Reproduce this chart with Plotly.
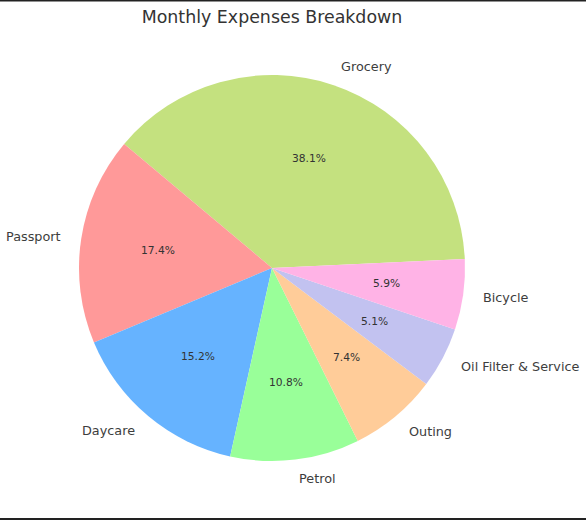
"""Camembert des dépenses mensuelles"""

import numpy as np
import plotly.graph_objects as go

categories = ["Grocery", "Passport", "Daycare", "Petrol", "Outing",
              "Oil Filter & Service", "Bicycle"]
montants = [38.1, 17.4, 15.2, 10.8, 7.4, 5.1, 5.9]
couleurs = ["#c4e17f", "#ff9999", "#66b3ff", "#99ff99", "#ffcc99",
            "#c2c2f0", "#ffb3e6"]

W, H = 586, 520
# zone carrée du camembert (386 x 386 px, centre ~ 272,268)
marge = dict(l=79, r=121, t=75, b=59, autoexpand=False)
ROTATION = -50

fig = go.Figure()

fig.add_trace(go.Pie(
    labels=categories,
    values=montants,
    sort=False,
    direction="counterclockwise",
    rotation=ROTATION,
    marker=dict(colors=couleurs, line=dict(width=0)),
    textinfo="none",
    showlegend=False,
    hoverinfo="label+percent",
))

# angles des parts (même logique que plotly : la 1re part finit à 90 - rotation)
fractions = np.array(montants) / sum(montants)
debut = 90 - ROTATION - 360 * fractions[0]
bornes = debut + 360 * np.concatenate([[0], np.cumsum(fractions)])
milieux = np.radians((bornes[:-1] + bornes[1:]) / 2)

annotations = []
for nom, frac, a in zip(categories, fractions, milieux):
    # pourcentage à 0.6 du rayon
    annotations.append(dict(
        x=0.5 + 0.5 * 0.6 * np.cos(a), y=0.5 + 0.5 * 0.6 * np.sin(a),
        xref="paper", yref="paper", text=f"{frac * 100:.1f}%",
        showarrow=False, xanchor="center", yanchor="middle", borderpad=0,
        font=dict(family="DejaVu Sans", size=10.7, color="#333333"),
    ))
    # libellé à 1.1 du rayon
    annotations.append(dict(
        x=0.5 + 0.5 * 1.1 * np.cos(a), y=0.5 + 0.5 * 1.1 * np.sin(a),
        xref="paper", yref="paper", text=nom,
        showarrow=False, yanchor="middle", borderpad=0,
        xanchor="left" if np.cos(a) > 0 else "right",
        font=dict(family="DejaVu Sans", size=12.8, color="#3d3d3d"),
    ))

fig.update_layout(
    width=W,
    height=H,
    margin=marge,
    paper_bgcolor="white",
    title=dict(
        text="Monthly Expenses Breakdown",
        x=272 / W,
        xanchor="center",
        y=1 - 17 / H,
        yanchor="middle",
        font=dict(family="DejaVu Sans", size=17.4, color="#333333"),
    ),
    annotations=annotations,
    shapes=[
        # bandes sombres en haut et en bas de la capture
        dict(type="rect", xref="paper", yref="paper",
             x0=-0.3, x1=1.4, y0=-57 / 386, y1=-0.2,
             fillcolor="#222222", line=dict(width=0)),
        dict(type="rect", xref="paper", yref="paper",
             x0=-0.3, x1=1.4, y0=(75 - 1.5) / 386 + 1, y1=1.3,
             fillcolor="#222222", line=dict(width=0)),
    ],
)

# pas de marge de page autour de la figure, pas de barre d'outils
fig.write_html(
    "out.html",
    config={"displayModeBar": False},
    post_script="document.body.style.margin = '0px';",
)
